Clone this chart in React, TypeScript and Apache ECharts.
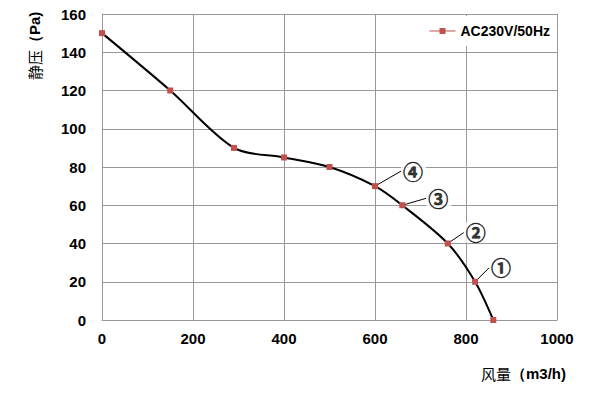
import React, { useEffect, useRef } from "react";
import * as echarts from "echarts";

const flow = [0, 150, 290, 400, 500, 600, 660, 760, 820, 860];
const pressure = [150, 120, 90, 85, 80, 70, 60, 40, 20, 0];
const markFlow = [600, 660, 760, 820];
const markPressure = [70, 60, 40, 20];
const markLabels = ["④", "③", "②", "①"];
const seriesName = "AC230V/50Hz";
const xName = ["风量", "（m3/h)"];
const yName = ["静压", "（Pa)"];

// label offsets (styling only)
const labelDx = [21, 19, 11, 9];
const labelDy = [-15, -7, -11, -14];

export default function App() {
  const ref = useRef<HTMLDivElement>(null);
  useEffect(() => {
    const chart = echarts.init(ref.current!, null, { renderer: "svg" });
    const font = "'Liberation Sans', 'Noto Sans', sans-serif";
    const cjk = "'Noto Sans CJK SC', sans-serif";
    const nameRich = {
      a: { fontFamily: cjk, fontSize: 15, color: "#222", fontWeight: "normal" },
      b: { fontFamily: font, fontSize: 15, color: "#000", fontWeight: "bold" },
    };
    chart.setOption({
      animation: false,
      backgroundColor: "#fff",
      grid: { left: 102, right: 43, top: 14, bottom: 73 },
      legend: {
        right: 44,
        top: 16,
        padding: [8, 6, 8, 26],
        backgroundColor: "#fff",
        itemWidth: 26,
        itemHeight: 6,
        itemGap: 4,
        textStyle: { fontFamily: font, fontWeight: "bold", fontSize: 14, color: "#000" },
        data: [{ name: seriesName, icon: "path://M0,2.5 L10,2.5 L10,0 L16,0 L16,2.5 L26,2.5 L26,3.5 L16,3.5 L16,6 L10,6 L10,3.5 L0,3.5 Z" }],
      },
      graphic: [
        {
          type: "text",
          left: 481,
          top: 366,
          style: { text: `{a|${xName[0]}}{b|${xName[1]}}`, rich: nameRich },
        },
        {
          type: "text",
          x: 27,
          y: 80,
          rotation: Math.PI / 2,
          style: { text: `{a|${yName[0]}}{b|${yName[1]}}`, rich: nameRich },
        },
      ],
      xAxis: {
        type: "value",
        min: 0,
        max: 1000,
        interval: 200,
        axisLine: { show: true, lineStyle: { color: "#999", width: 1 } },
        axisTick: { show: false },
        axisLabel: { fontFamily: font, fontWeight: "bold", fontSize: 15, color: "#000", margin: 11, formatter: (v: number) => String(v) },
        splitLine: { show: true, lineStyle: { color: "#999", width: 1 } },
      },
      yAxis: {
        type: "value",
        min: 0,
        max: 160,
        interval: 20,
        axisLine: { show: true, lineStyle: { color: "#999", width: 1 } },
        axisTick: { show: false },
        axisLabel: { fontFamily: font, fontWeight: "bold", fontSize: 15, color: "#000", margin: 16 },
        splitLine: { show: true, lineStyle: { color: "#999", width: 1 } },
      },
      series: [
        {
          name: seriesName,
          type: "line",
          smooth: 0.3,
          data: flow.map((f, i) => [f, pressure[i]]),
          symbol: "rect",
          symbolSize: 6,
          itemStyle: { color: "#c0504d" },
          lineStyle: { color: "#000", width: 2 },
          z: 3,
        },
        {
          type: "scatter",
          data: markFlow.map((f, i) => ({ value: [f, markPressure[i]], label: { formatter: markLabels[i] } })),
          symbolSize: 0,
          silent: true,
          label: {
            show: true,
            position: "right",
            fontFamily: "'Noto Sans CJK JP', sans-serif",
            fontWeight: "bold",
            fontSize: 20,
            lineHeight: 20,
            color: "#000",
            textBorderColor: "#000",
            textBorderWidth: 0.5,
            backgroundColor: "#fff",
            padding: [0, 3, 0, 2],
          },
          labelLayout: (p: any) => ({ dx: labelDx[p.dataIndex], dy: labelDy[p.dataIndex] }),
          labelLine: { show: true, lineStyle: { color: "#000", width: 1 } },
          z: 2,
        },
      ],
    });
    return () => chart.dispose();
  }, []);
  return <div ref={ref} style={{ width: 600, height: 393, position: "absolute", left: 0, top: 0 }} />;
}
